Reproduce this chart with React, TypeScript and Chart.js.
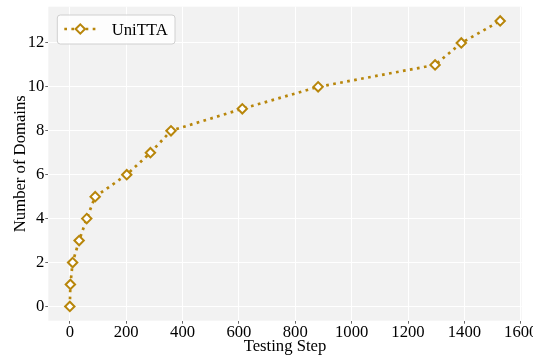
import React, { useEffect, useRef } from "react";
import { Chart, registerables } from "chart.js";

Chart.register(...registerables);

const seriesLabel = "UniTTA";
const testingSteps = [0, 2, 10, 33, 60, 90, 202, 286, 359, 612, 881, 1296, 1389, 1527];
const numDomains = [0, 1, 2, 3, 4, 5, 6, 7, 8, 9, 10, 11, 12, 13];
const xTickValues = [0, 200, 400, 600, 800, 1000, 1200, 1400, 1600];
const yTickValues = [0, 2, 4, 6, 8, 10, 12];

const COLOR = "#B8860B";
const FONT_FAMILY = '"Liberation Serif", "Times New Roman", serif';
const FS = 16.67;

const bgPlugin = {
  id: "plotBg",
  beforeDraw(chart: any) {
    const { ctx, chartArea } = chart;
    ctx.save();
    ctx.fillStyle = "#f2f2f2";
    ctx.fillRect(chartArea.left, chartArea.top, chartArea.right - chartArea.left, chartArea.bottom - chartArea.top);
    ctx.restore();
  },
};

const legendPlugin = {
  id: "mplLegend",
  afterDraw(chart: any) {
    const { ctx, chartArea } = chart;
    const ds = chart.data.datasets[0];
    const x0 = chartArea.left + 9;
    const y0 = chartArea.top + 8.3;
    const w = 117.7;
    const h = 29;
    ctx.save();
    ctx.beginPath();
    ctx.roundRect(x0, y0, w, h, 3);
    ctx.fillStyle = "rgba(255,255,255,0.8)";
    ctx.fill();
    ctx.strokeStyle = "#d0d0d0";
    ctx.lineWidth = 1;
    ctx.stroke();
    const ly = y0 + 14;
    ctx.beginPath();
    ctx.setLineDash([2.7, 4.4]);
    ctx.lineWidth = 2.7;
    ctx.strokeStyle = COLOR;
    ctx.moveTo(x0 + 7, ly);
    ctx.lineTo(x0 + 39, ly);
    ctx.stroke();
    ctx.setLineDash([]);
    const cx = x0 + 23;
    const r = 4.7;
    ctx.beginPath();
    ctx.moveTo(cx - r, ly);
    ctx.lineTo(cx, ly - r);
    ctx.lineTo(cx + r, ly);
    ctx.lineTo(cx, ly + r);
    ctx.closePath();
    ctx.fillStyle = "#fff";
    ctx.fill();
    ctx.lineWidth = 2;
    ctx.strokeStyle = COLOR;
    ctx.stroke();
    ctx.fillStyle = "#000";
    ctx.font = `${FS}px ${FONT_FAMILY}`;
    ctx.textAlign = "left";
    ctx.textBaseline = "alphabetic";
    ctx.fillText(ds.label, x0 + 54.4, y0 + 19.6);
    ctx.restore();
  },
};

export default function App() {
  const canvasRef = useRef<HTMLCanvasElement | null>(null);

  useEffect(() => {
    document.body.style.margin = "0";
    const canvas = canvasRef.current;
    if (!canvas) return;
    const tickFont = { family: FONT_FAMILY, size: FS };
    const chart = new Chart(canvas, {
      type: "line",
      data: {
        datasets: [
          {
            label: seriesLabel,
            data: testingSteps.map((x, i) => ({ x, y: numDomains[i] })),
            borderColor: COLOR,
            borderWidth: 2.7,
            borderDash: [2.7, 4.4],
            tension: 0,
            fill: false,
            pointStyle: "rectRot",
            pointRadius: 4.7,
            pointBorderWidth: 2,
            pointBorderColor: COLOR,
            pointBackgroundColor: "#fff",
          },
        ],
      },
      options: {
        responsive: false,
        devicePixelRatio: 1,
        animation: false,
        layout: { padding: { top: 6.7, right: 11.3, left: 0, bottom: 0 } },
        plugins: {
          legend: { display: false },
          tooltip: { enabled: false },
        },
        scales: {
          x: {
            type: "linear",
            min: -76.35,
            max: 1603.35,
            afterBuildTicks: (s: any) => {
              s.ticks = xTickValues.map((v) => ({ value: v }));
            },
            afterFit: (s: any) => {
              s.height = 35.3;
              s.paddingLeft = 0;
              s.paddingRight = 0;
            },
            border: { display: false },
            grid: { color: "#ffffff", lineWidth: 1, tickColor: "#666", tickLength: 3, tickWidth: 1 },
            ticks: {
              font: tickFont,
              color: "#000",
              padding: -1,
              maxRotation: 0,
              autoSkip: false,
              callback: (v: any) => String(v),
            },
            title: {
              display: true,
              text: "Testing Step",
              font: { family: FONT_FAMILY, size: FS },
              color: "#000",
              padding: { top: 0, bottom: -1 },
            },
          },
          y: {
            type: "linear",
            min: -0.65,
            max: 13.65,
            afterBuildTicks: (s: any) => {
              s.ticks = yTickValues.map((v) => ({ value: v }));
            },
            afterFit: (s: any) => {
              s.width = 48.3;
              s.paddingTop = 0;
              s.paddingBottom = 0;
            },
            border: { display: false },
            grid: { color: "#ffffff", lineWidth: 1, tickColor: "#666", tickLength: 3, tickWidth: 1 },
            ticks: { font: tickFont, color: "#000", padding: 1, callback: (v: any) => String(v) },
            title: {
              display: true,
              text: "Number of Domains",
              font: { family: FONT_FAMILY, size: FS },
              color: "#000",
              padding: { top: 10.5, bottom: 0 },
            },
          },
        },
      },
      plugins: [bgPlugin, legendPlugin],
    } as any);
    return () => chart.destroy();
  }, []);

  return (
    <div style={{ width: 533, height: 356 }}>
      <canvas ref={canvasRef} width={533} height={356} />
    </div>
  );
}
